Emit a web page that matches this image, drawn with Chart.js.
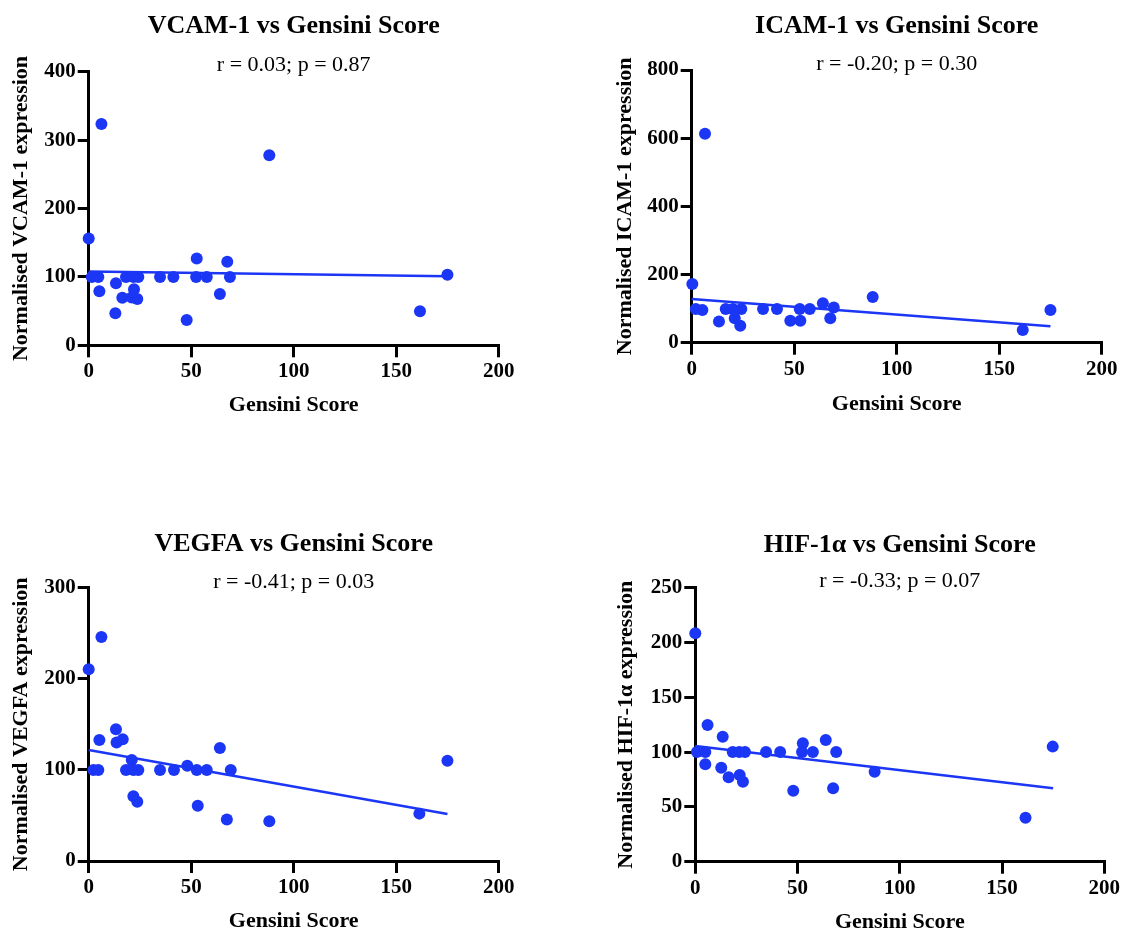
<!DOCTYPE html>
<html>
<head>
<meta charset="utf-8">
<script src="https://cdn.jsdelivr.net/npm/chart.js@4.4.1/dist/chart.umd.min.js"></script>
<style>
  body { margin: 0; background: #fff; }
  #wrap { position: relative; width: 1122px; height: 932px; }
  .panel { position: absolute; }
</style>
</head>
<body>
<div id="wrap">
  <div class="panel" style="left:0;top:0;width:520px;height:440px"><canvas id="gVcam"></canvas></div>
  <div class="panel" style="left:600px;top:0;width:522px;height:440px"><canvas id="gIcam"></canvas></div>
  <div class="panel" style="left:0;top:500px;width:520px;height:432px"><canvas id="gVegfa"></canvas></div>
  <div class="panel" style="left:600px;top:500px;width:522px;height:432px"><canvas id="gHif"></canvas></div>
</div>
<script>
// Gensini score (x) and normalised expression (y) per marker
const vcamX  = [0, 1.5, 4.7, 5.2, 6.2, 13, 13.3, 16.4, 18.2, 21, 21.8, 22.1, 23.7, 24.2, 34.8, 41.3, 47.8, 52.4, 52.7, 57.6, 64, 67.6, 68.9, 88.1, 161.6, 175];
const vcamY  = [156, 100, 100, 79, 323.5, 46.8, 90.6, 69.6, 100, 70, 100, 82, 67.7, 100, 100, 100, 37, 100, 127, 100, 75, 122, 100, 277.7, 49.7, 103.3];

const icamX  = [0.3, 2, 5.2, 6.5, 13.3, 16.6, 20.1, 21, 23.7, 24.2, 34.8, 41.6, 48.1, 52.7, 53, 57.6, 64, 67.6, 69.3, 88.3, 161.5, 175];
const icamY  = [172, 99, 96, 613, 62, 99, 99, 71.6, 50, 99, 99, 99, 64.6, 99, 64.6, 99, 115.6, 71.6, 103, 134, 37, 96];

const vegfaX = [0, 2.3, 4.7, 5.2, 6.2, 13.3, 13.6, 16.6, 18.2, 21, 21.8, 21.8, 23.7, 24.2, 34.8, 41.6, 48.1, 52.7, 53.2, 57.6, 64, 67.4, 69.3, 88.1, 161.3, 175];
const vegfaY = [210.4, 100, 100, 132.8, 246, 144.6, 130, 133.6, 100, 110.9, 100, 71, 65, 100, 100, 100, 104.6, 100, 60.7, 100, 124, 45.5, 100, 43.6, 52, 110];

const hifX   = [0, 0.8, 4.9, 4.9, 6, 12.7, 13.4, 16.3, 18.3, 21.5, 21.7, 23.3, 24.3, 34.6, 41.5, 47.9, 52.2, 52.6, 57.5, 63.8, 67.4, 68.9, 87.7, 161.5, 174.8];
const hifY   = [208.4, 100, 100, 89, 124.7, 85.8, 114, 77, 100, 100, 79, 73, 100, 100, 100, 64.8, 100, 108, 100, 111, 67, 100, 82, 40, 105];

// Linear fit end points (x = 0 and x = 175)
const fitX      = [0, 175];
const vcamFit   = [108, 101];
const icamFit   = [128, 48];
const vegfaFit  = [121.8, 51.6];
const hifFit    = [105.5, 67];

const xTicks = [0, 50, 100, 150, 200];

const AZUL = '#1b36f5';
const SERIF = "'Liberation Serif', 'Times New Roman', serif";

function puntos(xs, ys){
    return xs.map((x, i) => ({ x: x, y: ys[i] }));
}

// g: chart area (L,T,R,B) and text centres in canvas pixels
function crearPanel(id, W, H, g, titulo, stats, yLabel, xs, ys, fit, yMax, yStep){
    const tLh = 26 * 1.2, sLh = 22 * 1.2, yLh = 22 * 1.2, xLh = 22 * 1.2;
    const titleTop = g.titleY - tLh / 2;
    const subTop   = g.subY - sLh / 2 - (g.titleY + tLh / 2);
    const subBot   = g.T - (g.subY + sLh / 2);

    return new Chart(document.getElementById(id), {
        type: 'scatter',
        data: {
            datasets: [{
                data: puntos(xs, ys),
                backgroundColor: AZUL,
                borderWidth: 0,
                pointRadius: 6,
                pointHoverRadius: 6,
                clip: false
            }, {
                type: 'line',
                data: puntos(fitX, fit),
                borderColor: AZUL,
                borderWidth: 2.5,
                pointRadius: 0,
                fill: false,
                clip: false
            }]
        },
        options: {
            responsive: false,
            animation: false,
            layout: { padding: { left: 0, top: 0, right: W - g.R, bottom: 0 } },
            plugins: {
                legend: { display: false },
                tooltip: { enabled: false },
                title: {
                    display: true, text: titulo, color: '#000', fullSize: false,
                    font: { family: SERIF, size: 26, weight: 'bold', lineHeight: 1.2 },
                    padding: { top: titleTop, bottom: 0 }
                },
                subtitle: {
                    display: true, text: stats, color: '#000', fullSize: false,
                    font: { family: SERIF, size: 22, weight: 'normal', lineHeight: 1.2 },
                    padding: { top: subTop, bottom: subBot }
                }
            },
            scales: {
                x: {
                    type: 'linear', min: 0, max: 200,
                    afterBuildTicks: s => { s.ticks = xTicks.map(v => ({ value: v })); },
                    afterFit: s => { s.height = H - g.B; },
                    border: { display: true, color: '#000', width: 3 },
                    grid: { drawOnChartArea: false, color: '#000', lineWidth: 3, tickLength: 12 },
                    ticks: { color: '#000', padding: 2, font: { family: SERIF, size: 21, weight: 'bold' } },
                    title: {
                        display: true, text: 'Gensini Score', color: '#000',
                        font: { family: SERIF, size: 22, weight: 'bold', lineHeight: 1.2 },
                        padding: { top: 0, bottom: H - g.xTitleY - xLh / 2 }
                    }
                },
                y: {
                    min: 0, max: yMax,
                    afterFit: s => { s.width = g.L; },
                    border: { display: true, color: '#000', width: 3 },
                    grid: { drawOnChartArea: false, color: '#000', lineWidth: 3, tickLength: 11 },
                    ticks: { stepSize: yStep, color: '#000', padding: 2, font: { family: SERIF, size: 21, weight: 'bold' } },
                    title: {
                        display: true, text: yLabel, color: '#000',
                        font: { family: SERIF, size: 22, weight: 'bold', lineHeight: 1.2 },
                        padding: { top: g.yTitleX - yLh / 2, bottom: 0 }
                    }
                }
            }
        }
    });
}

function dimensionar(id, W, H){
    const c = document.getElementById(id);
    c.width = W; c.height = H;
    c.style.width = W + 'px'; c.style.height = H + 'px';
}

dimensionar('gVcam', 520, 440);
dimensionar('gIcam', 522, 440);
dimensionar('gVegfa', 520, 432);
dimensionar('gHif', 522, 432);

crearPanel('gVcam', 520, 440,
    { L: 88.7, T: 71.7, R: 498.7, B: 345.3, yTitleX: 21, xTitleY: 405, titleY: 25.8, subY: 65 },
    'VCAM-1 vs Gensini Score', 'r = 0.03; p = 0.87', 'Normalised VCAM-1 expression',
    vcamX, vcamY, vcamFit, 400, 100);

crearPanel('gIcam', 522, 440,
    { L: 91.7, T: 70, R: 501.7, B: 342.7, yTitleX: 25, xTitleY: 404, titleY: 26, subY: 64 },
    'ICAM-1 vs Gensini Score', 'r = -0.20; p = 0.30', 'Normalised ICAM-1 expression',
    icamX, icamY, icamFit, 800, 200);

crearPanel('gVegfa', 520, 432,
    { L: 88.7, T: 87.7, R: 498.7, B: 361, yTitleX: 21.7, xTitleY: 421, titleY: 44.5, subY: 82 },
    'VEGFA vs Gensini Score', 'r = -0.41; p = 0.03', 'Normalised VEGFA expression',
    vegfaX, vegfaY, vegfaFit, 300, 100);

crearPanel('gHif', 522, 432,
    { L: 95.3, T: 87.7, R: 505, B: 361.7, yTitleX: 26.7, xTitleY: 422, titleY: 45, subY: 81 },
    'HIF-1α vs Gensini Score', 'r = -0.33; p = 0.07', 'Normalised HIF-1α expression',
    hifX, hifY, hifFit, 250, 50);
</script>
</body>
</html>
